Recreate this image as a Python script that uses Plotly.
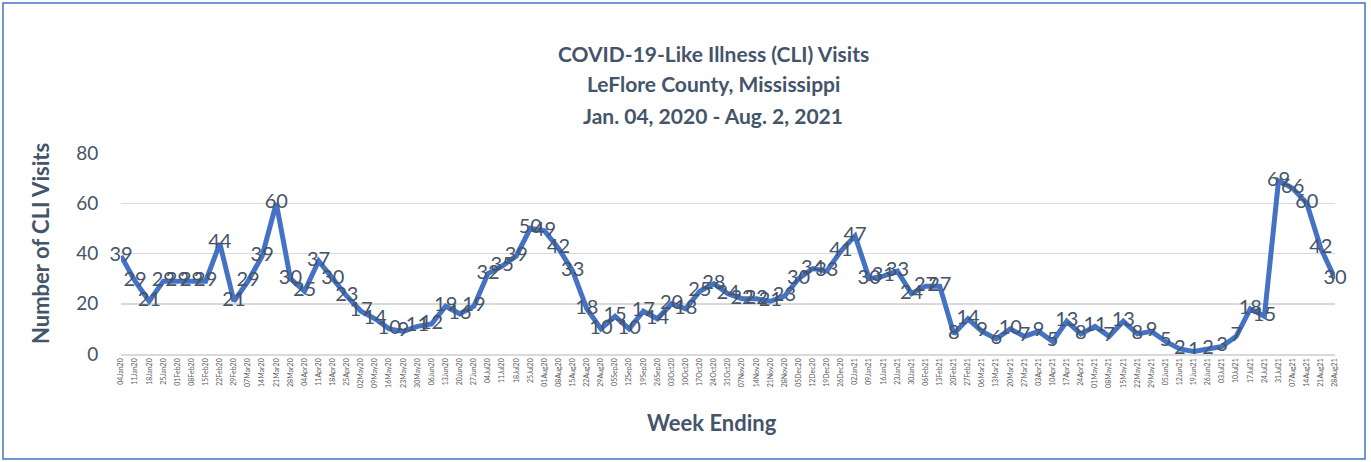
import plotly.graph_objects as go

weeks = [
    "04Jan20", "11Jan20", "18Jan20", "25Jan20", "01Feb20", "08Feb20", "15Feb20", "22Feb20", "29Feb20",
    "07Mar20", "14Mar20", "21Mar20", "28Mar20", "04Apr20", "11Apr20", "18Apr20", "25Apr20",
    "02May20", "09May20", "16May20", "23May20", "30May20", "06Jun20", "13Jun20", "20Jun20", "27Jun20",
    "04Jul20", "11Jul20", "18Jul20", "25Jul20", "01Aug20", "08Aug20", "15Aug20", "22Aug20", "29Aug20",
    "05Sep20", "12Sep20", "19Sep20", "26Sep20", "03Oct20", "10Oct20", "17Oct20", "24Oct20", "31Oct20",
    "07Nov20", "14Nov20", "21Nov20", "28Nov20", "05Dec20", "12Dec20", "19Dec20", "26Dec20",
    "02Jan21", "09Jan21", "16Jan21", "23Jan21", "30Jan21", "06Feb21", "13Feb21", "20Feb21", "27Feb21",
    "06Mar21", "13Mar21", "20Mar21", "27Mar21", "03Apr21", "10Apr21", "17Apr21", "24Apr21",
    "01May21", "08May21", "15May21", "22May21", "29May21", "05Jun21", "12Jun21", "19Jun21", "26Jun21",
    "03Jul21", "10Jul21", "17Jul21", "24Jul21", "31Jul21", "07Aug21", "14Aug21", "21Aug21", "28Aug21",
]

visits = [
    39, 29, 21, 29, 29, 29, 29, 44, 21,
    29, 39, 60, 30, 25, 37, 30, 23,
    17, 14, 10, 9, 11, 12, 19, 16, 19,
    32, 35, 39, 50, 49, 42, 33, 18, 10,
    15, 10, 17, 14, 20, 18, 25, 28, 24,
    22, 22, 21, 23, 30, 34, 33, 41,
    47, 30, 31, 33, 24, 27, 27, 8, 14,
    9, 6, 10, 7, 9, 5, 13, 8,
    11, 7, 13, 8, 9, 5, 2, 1, 2,
    3, 7, 18, 15, 69, 66, 60, 42, 30,
]

title_lines = [
    "COVID-19-Like Illness (CLI) Visits",
    "LeFlore County, Mississippi",
    "Jan. 04, 2020 - Aug. 2, 2021",
]
y_title = "Number of CLI Visits"
x_title = "Week Ending"

W, H = 1371, 462
ML, MR, MT, MB = 121, 36, 153, 108
PW = W - ML - MR
PH = H - MT - MB

def px_x(x):
    return (x - ML) / PW

def px_y(y):
    return (H - MB - y) / PH

TEXT = "#44546A"
FONT = "Lato"
idx = list(range(len(weeks)))

fig = go.Figure()
fig.add_trace(go.Scatter(
    x=idx, y=visits,
    mode="lines+text",
    line=dict(color="#4472C4", width=5),
    text=[str(v) for v in visits],
    textposition="middle center",
    textfont=dict(family=FONT, size=20, color=TEXT),
    cliponaxis=False,
    hoverinfo="skip",
))

fig.update_layout(
    width=W, height=H,
    margin=dict(l=ML, r=MR, t=MT, b=MB),
    paper_bgcolor="white",
    plot_bgcolor="white",
    showlegend=False,
    font=dict(family=FONT, color=TEXT),
)

fig.update_xaxes(
    range=[0, len(weeks) - 1],
    tickmode="array",
    tickvals=idx,
    ticktext=weeks,
    tickangle=-90,
    tickfont=dict(family=FONT, size=7, color="#595959"),
    showgrid=False,
    showline=True,
    linecolor="#D9D9D9",
    linewidth=1.5,
    zeroline=False,
    ticks="",
)

fig.update_yaxes(
    range=[0, 80],
    dtick=20,
    tickfont=dict(family=FONT, size=19, color=TEXT),
    showgrid=True,
    gridcolor="#D9D9D9",
    gridwidth=1.5,
    zeroline=False,
    showline=False,
    ticks="outside",
    ticklen=18,
    tickcolor="rgba(0,0,0,0)",
)

annotations = []
for line, ypix in zip(title_lines, [54, 84, 115]):
    annotations.append(dict(
        text="<b>" + line + "</b>", x=px_x(713), y=px_y(ypix),
        xref="paper", yref="paper", xanchor="center", yanchor="middle",
        showarrow=False, font=dict(family=FONT, size=21, color=TEXT),
    ))
annotations.append(dict(
    text="<b>" + y_title + "</b>", x=px_x(40), y=px_y(244),
    xref="paper", yref="paper", xanchor="center", yanchor="middle",
    textangle=-90, showarrow=False, font=dict(family=FONT, size=22, color=TEXT),
))
annotations.append(dict(
    text="<b>" + x_title + "</b>", x=px_x(712), y=px_y(422),
    xref="paper", yref="paper", xanchor="center", yanchor="middle",
    showarrow=False, font=dict(family=FONT, size=22, color=TEXT),
))
fig.update_layout(annotations=annotations)

fig.add_shape(
    type="rect", xref="paper", yref="paper",
    x0=px_x(3), x1=px_x(1365), y0=px_y(459), y1=px_y(3),
    line=dict(color="#4472C4", width=1.5), fillcolor="rgba(0,0,0,0)", layer="below",
)

fig.write_html(
    "out.html",
    config={"displayModeBar": False, "staticPlot": True},
    post_script="document.body.style.margin='0';document.body.style.overflow='hidden';",
)
